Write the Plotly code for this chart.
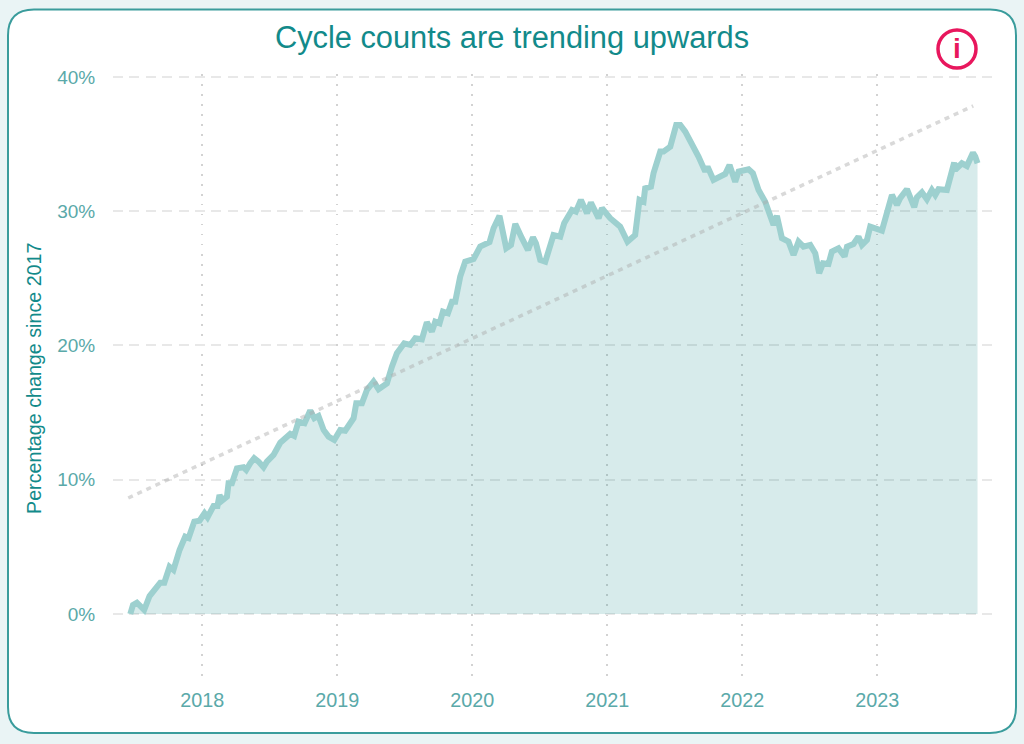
import plotly.graph_objects as go

title = "Cycle counts are trending upwards"
y_title = "Percentage change since 2017"
year_ticks = [2018, 2019, 2020, 2021, 2022, 2023]
pct_ticks = [0, 10, 20, 30, 40]
pct_labels = ["0%", "10%", "20%", "30%", "40%"]

years = [
    2017.467, 2017.487, 2017.516, 2017.570, 2017.610, 2017.652, 2017.689, 2017.719, 2017.758, 2017.787,
    2017.832, 2017.874, 2017.899, 2017.941, 2017.980, 2018.017, 2018.039, 2018.084, 2018.113, 2018.128,
    2018.146, 2018.183, 2018.195, 2018.220, 2018.257, 2018.306, 2018.326, 2018.356, 2018.385, 2018.417,
    2018.454, 2018.479, 2018.528, 2018.578, 2018.652, 2018.681, 2018.713, 2018.758, 2018.800, 2018.830,
    2018.861, 2018.899, 2018.936, 2018.978, 2019.022, 2019.059, 2019.121, 2019.141, 2019.183, 2019.220,
    2019.269, 2019.306, 2019.368, 2019.405, 2019.442, 2019.496, 2019.541, 2019.578, 2019.627, 2019.664,
    2019.701, 2019.726, 2019.758, 2019.783, 2019.820, 2019.850, 2019.874, 2019.911, 2019.948, 2020.010,
    2020.059, 2020.128, 2020.158, 2020.202, 2020.252, 2020.287, 2020.319, 2020.368, 2020.413, 2020.450,
    2020.472, 2020.504, 2020.541, 2020.602, 2020.652, 2020.681, 2020.739, 2020.768, 2020.805, 2020.850,
    2020.879, 2020.936, 2020.961, 2021.022, 2021.096, 2021.150, 2021.207, 2021.239, 2021.269, 2021.281,
    2021.324, 2021.343, 2021.393, 2021.417, 2021.467, 2021.511, 2021.541, 2021.578, 2021.627, 2021.676,
    2021.726, 2021.743, 2021.787, 2021.874, 2021.906, 2021.948, 2021.973, 2022.047, 2022.079, 2022.121,
    2022.170, 2022.232, 2022.257, 2022.294, 2022.343, 2022.380, 2022.417, 2022.454, 2022.504, 2022.541,
    2022.570, 2022.598, 2022.639, 2022.664, 2022.713, 2022.758, 2022.776, 2022.824, 2022.861, 2022.887,
    2022.924, 2022.948, 2023.035, 2023.109, 2023.146, 2023.170, 2023.220, 2023.274, 2023.294, 2023.331,
    2023.368, 2023.405, 2023.430, 2023.454, 2023.516, 2023.541, 2023.570, 2023.578, 2023.627, 2023.664,
    2023.709, 2023.726, 2023.743,
]
pct_change = [
    0.00, 0.67, 0.84, 0.30, 1.34, 1.79, 2.33, 2.33, 3.52, 3.28,
    4.77, 5.76, 5.66, 6.88, 6.95, 7.50, 7.20, 8.05, 8.05, 8.86,
    8.44, 8.74, 9.74, 9.74, 10.85, 10.93, 10.73, 11.23, 11.60, 11.35,
    10.93, 11.35, 11.85, 12.76, 13.41, 13.26, 14.33, 14.21, 15.15, 14.58,
    14.75, 13.71, 13.21, 12.96, 13.71, 13.65, 14.58, 15.70, 15.70, 16.69,
    17.31, 16.74, 17.18, 18.42, 19.42, 20.16, 20.04, 20.54, 20.46, 21.73,
    21.03, 21.77, 21.65, 22.52, 22.40, 23.26, 23.26, 25.13, 26.24, 26.44,
    27.36, 27.69, 28.73, 29.65, 27.24, 27.49, 29.05, 27.99, 27.11, 28.06,
    27.61, 26.37, 26.24, 28.23, 28.11, 29.10, 30.09, 29.97, 30.84, 29.85,
    30.64, 29.48, 30.22, 29.48, 28.85, 27.73, 28.23, 30.84, 30.71, 31.71,
    31.83, 32.83, 34.44, 34.44, 34.81, 36.43, 36.43, 35.93, 35.06, 34.07,
    32.95, 33.32, 32.33, 32.77, 33.44, 32.20, 32.95, 33.12, 32.83, 31.58,
    30.71, 28.98, 29.65, 27.99, 27.73, 26.74, 27.73, 27.36, 27.49, 26.87,
    25.38, 26.12, 26.07, 26.99, 27.24, 26.62, 27.36, 27.56, 28.11, 27.49,
    27.86, 28.85, 28.55, 31.21, 30.47, 30.97, 31.64, 30.30, 31.04, 31.41,
    30.89, 31.58, 31.21, 31.64, 31.58, 32.70, 33.62, 33.08, 33.57, 33.37,
    34.36, 34.07, 33.57,
]
trend_years = [2017.452, 2023.711]
trend_pct = [8.64, 37.84]

W, H = 1024, 744
L, R, T, B = 113, 30, 74, 61
pw, ph = W - L - R, H - T - B


def px(x):
    return (x - L) / pw


def py(y):
    return 1 - (y - T) / ph


def card_path(x0, y0, x1, y1, r):
    pts = [
        ("M", x0 + r, y0), ("L", x1 - r, y0), ("Q", x1, y0, x1, y0 + r), ("L", x1, y1 - r),
        ("Q", x1, y1, x1 - r, y1), ("L", x0 + r, y1), ("Q", x0, y1, x0, y1 - r),
        ("L", x0, y0 + r), ("Q", x0, y0, x0 + r, y0),
    ]
    out = []
    for p in pts:
        coords = p[1:]
        s = []
        for i in range(0, len(coords), 2):
            s.append(f"{px(coords[i]):.5f},{py(coords[i + 1]):.5f}")
        out.append(p[0] + " " + " ".join(s))
    return " ".join(out) + " Z"


fig = go.Figure()
fig.add_trace(go.Scatter(
    x=years, y=pct_change, mode="lines", fill="tozeroy",
    fillcolor="rgba(0,128,128,0.157)",
    line=dict(color="#9dd0cf", width=6, shape="linear"),
    hoverinfo="skip",
))
fig.add_trace(go.Scatter(
    x=trend_years, y=trend_pct, mode="lines",
    line=dict(color="rgba(170,170,170,0.45)", width=3.5, dash="5px,5px"),
    hoverinfo="skip",
))

fig.update_layout(
    width=W, height=H, showlegend=False,
    margin=dict(l=L, r=R, t=T, b=B, pad=0),
    paper_bgcolor="#eaf4f5", plot_bgcolor="rgba(0,0,0,0)",
    font=dict(family="Liberation Sans, Arial, sans-serif", color="#5aa9a9", size=20),
    title=dict(
        text=title, x=512 / W, xref="container", xanchor="center",
        y=1 - 37 / H, yref="container", yanchor="middle",
        font=dict(size=30.8, color="#128a8a"),
    ),
    xaxis=dict(
        type="linear", range=[2017.339, 2023.865], tickmode="array", tickvals=year_ticks,
        ticktext=[str(v) for v in year_ticks], showgrid=True, griddash="1.5px,8.5px",
        gridcolor="#d2d2d2", gridwidth=1.5, zeroline=False, showline=False,
        ticks="outside", ticklen=1, tickcolor="rgba(0,0,0,0)", ticklabelstandoff=-2,
        tickfont=dict(size=19.8, color="#5aa9a9"),
    ),
    yaxis=dict(
        range=[-5.14, 40.22], tickmode="array", tickvals=pct_ticks, ticktext=pct_labels,
        showgrid=True, griddash="10px,6.4px", gridcolor="#e8e8e8", gridwidth=2,
        zeroline=False, showline=False,
        ticks="outside", ticklen=13, tickcolor="rgba(0,0,0,0)",
        tickfont=dict(size=19, color="#5aa9a9"),
    ),
    annotations=[
        dict(
            text=y_title, xref="paper", yref="paper", x=px(34), y=py(379), textangle=-90,
            showarrow=False, xanchor="center", yanchor="middle",
            font=dict(size=19.7, color="#128a8a"),
        ),
        dict(
            text="<b>i</b>", xref="paper", yref="paper", x=px(957), y=py(49),
            showarrow=False, xanchor="center", yanchor="middle",
            font=dict(size=28, color="#e8175d", family="Liberation Sans, Arial, sans-serif"),
        ),
    ],
    shapes=[
        dict(type="path", xref="paper", yref="paper", layer="below",
             path=card_path(8, 9.5, 1016, 733, 26), fillcolor="white",
             line=dict(color="#3a9c9c", width=2)),
        dict(type="circle", xref="paper", yref="paper", layer="above",
             x0=px(938), x1=px(976), y0=py(68), y1=py(30),
             line=dict(color="#e8175d", width=3.5), fillcolor="rgba(0,0,0,0)"),
    ],
)

fig.write_html(
    "out.html",
    config=dict(displayModeBar=False),
    post_script="document.body.style.margin='0';document.body.style.background='#eaf4f5';",
)
